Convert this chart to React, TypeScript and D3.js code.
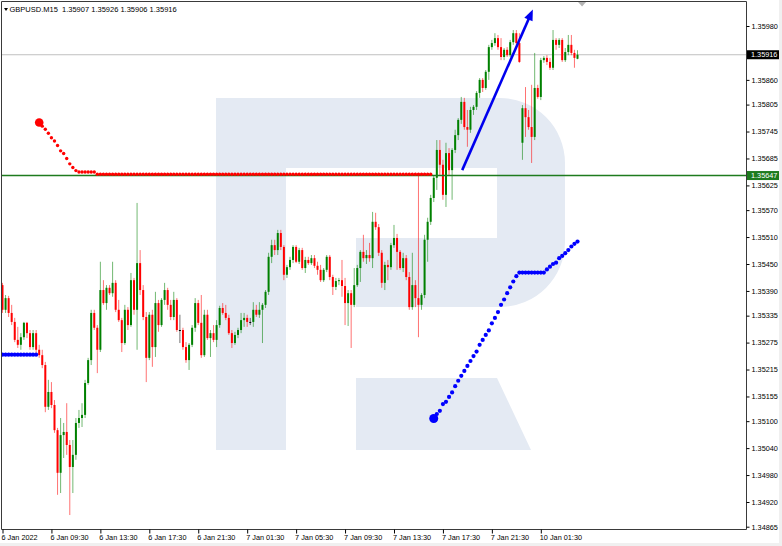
import React, { useEffect, useRef } from 'react';
import * as d3 from 'd3';

const symbol = 'GBPUSD.M15';
const lastQuote = [1.35907, 1.35926, 1.35906, 1.35916];

// M15 candles: [open, high, low, close]
const ohlc: number[][] = [
  // 6 Jan
  [1.35403, 1.35408, 1.35341, 1.35348], [1.35348, 1.35381, 1.35341, 1.35374], [1.35374, 1.35379, 1.35332, 1.35341],
  [1.35341, 1.35359, 1.35314, 1.35321], [1.35321, 1.35330, 1.35276, 1.35281], [1.35281, 1.35310, 1.35263, 1.35270],
  [1.35270, 1.35296, 1.35259, 1.35287], [1.35287, 1.35321, 1.35281, 1.35319], [1.35319, 1.35321, 1.35285, 1.35296],
  [1.35296, 1.35303, 1.35259, 1.35265], [1.35265, 1.35303, 1.35259, 1.35296], [1.35296, 1.35303, 1.35252, 1.35259],
  [1.35259, 1.35270, 1.35241, 1.35247], [1.35247, 1.35259, 1.35218, 1.35225], [1.35225, 1.35232, 1.35120, 1.35132],
  [1.35132, 1.35192, 1.35125, 1.35165], [1.35165, 1.35187, 1.35129, 1.35136], [1.35136, 1.35147, 1.35074, 1.35080],
  [1.35080, 1.35085, 1.34936, 1.34985], [1.34985, 1.35107, 1.34940, 1.35069], [1.35069, 1.35096, 1.35018, 1.35076],
  [1.35076, 1.35140, 1.35025, 1.35047], [1.35047, 1.35058, 1.34891, 1.34998], [1.34998, 1.35058, 1.34940, 1.35025],
  [1.35025, 1.35107, 1.35014, 1.35096], [1.35096, 1.35125, 1.35085, 1.35107], [1.35107, 1.35140, 1.35087, 1.35114],
  [1.35114, 1.35192, 1.35107, 1.35185], [1.35185, 1.35241, 1.35181, 1.35236], [1.35236, 1.35348, 1.35225, 1.35341],
  [1.35341, 1.35348, 1.35303, 1.35308], [1.35308, 1.35314, 1.35207, 1.35259], [1.35259, 1.35455, 1.35254, 1.35392],
  [1.35392, 1.35414, 1.35359, 1.35363], [1.35363, 1.35403, 1.35348, 1.35397], [1.35397, 1.35403, 1.35381, 1.35385],
  [1.35385, 1.35455, 1.35377, 1.35408], [1.35408, 1.35414, 1.35343, 1.35348], [1.35348, 1.35370, 1.35321, 1.35325],
  [1.35325, 1.35330, 1.35254, 1.35274], [1.35274, 1.35359, 1.35270, 1.35348], [1.35348, 1.35354, 1.35303, 1.35314],
  [1.35314, 1.35430, 1.35310, 1.35414], [1.35414, 1.35419, 1.35337, 1.35348], [1.35348, 1.35586, 1.35259, 1.35452],
  [1.35452, 1.35481, 1.35381, 1.35392], [1.35392, 1.35403, 1.35325, 1.35332], [1.35332, 1.35343, 1.35187, 1.35241],
  [1.35241, 1.35343, 1.35236, 1.35337], [1.35337, 1.35348, 1.35221, 1.35265], [1.35265, 1.35388, 1.35243, 1.35363],
  [1.35363, 1.35370, 1.35299, 1.35314], [1.35314, 1.35374, 1.35310, 1.35370], [1.35370, 1.35408, 1.35359, 1.35392],
  [1.35392, 1.35397, 1.35348, 1.35359], [1.35359, 1.35370, 1.35325, 1.35332], [1.35332, 1.35388, 1.35325, 1.35370],
  [1.35370, 1.35374, 1.35299, 1.35303], [1.35303, 1.35337, 1.35274, 1.35303], [1.35303, 1.35308, 1.35259, 1.35265],
  [1.35265, 1.35276, 1.35230, 1.35236], [1.35236, 1.35274, 1.35214, 1.35270], [1.35270, 1.35314, 1.35265, 1.35308],
  [1.35308, 1.35374, 1.35299, 1.35363], [1.35363, 1.35370, 1.35314, 1.35319], [1.35319, 1.35381, 1.35241, 1.35247],
  [1.35247, 1.35348, 1.35243, 1.35337], [1.35337, 1.35348, 1.35281, 1.35285], [1.35285, 1.35303, 1.35243, 1.35296],
  [1.35296, 1.35314, 1.35276, 1.35281], [1.35281, 1.35325, 1.35265, 1.35314], [1.35314, 1.35357, 1.35308, 1.35352],
  [1.35352, 1.35363, 1.35337, 1.35341], [1.35341, 1.35359, 1.35325, 1.35330], [1.35330, 1.35337, 1.35292, 1.35296],
  [1.35296, 1.35303, 1.35263, 1.35274], [1.35274, 1.35299, 1.35270, 1.35292], [1.35292, 1.35308, 1.35285, 1.35303],
  // 7 Jan
  [1.35303, 1.35341, 1.35296, 1.35325], [1.35325, 1.35341, 1.35310, 1.35330], [1.35330, 1.35337, 1.35310, 1.35321],
  [1.35321, 1.35330, 1.35314, 1.35321], [1.35321, 1.35365, 1.35310, 1.35348], [1.35348, 1.35359, 1.35332, 1.35337],
  [1.35337, 1.35365, 1.35330, 1.35348], [1.35348, 1.35363, 1.35274, 1.35359], [1.35359, 1.35392, 1.35352, 1.35388],
  [1.35388, 1.35475, 1.35381, 1.35466], [1.35466, 1.35504, 1.35452, 1.35492], [1.35492, 1.35504, 1.35470, 1.35481],
  [1.35481, 1.35526, 1.35470, 1.35519], [1.35519, 1.35526, 1.35481, 1.35488], [1.35488, 1.35492, 1.35414, 1.35426],
  [1.35426, 1.35448, 1.35419, 1.35443], [1.35443, 1.35466, 1.35437, 1.35459], [1.35459, 1.35492, 1.35452, 1.35488],
  [1.35488, 1.35492, 1.35452, 1.35455], [1.35455, 1.35486, 1.35450, 1.35481], [1.35481, 1.35486, 1.35437, 1.35441],
  [1.35441, 1.35466, 1.35430, 1.35459], [1.35459, 1.35466, 1.35448, 1.35452], [1.35452, 1.35470, 1.35448, 1.35463],
  [1.35463, 1.35470, 1.35441, 1.35446], [1.35446, 1.35455, 1.35426, 1.35437], [1.35437, 1.35448, 1.35410, 1.35414],
  [1.35414, 1.35441, 1.35410, 1.35437], [1.35437, 1.35470, 1.35432, 1.35466], [1.35466, 1.35470, 1.35414, 1.35421],
  [1.35421, 1.35426, 1.35381, 1.35399], [1.35399, 1.35419, 1.35392, 1.35412], [1.35412, 1.35419, 1.35403, 1.35414],
  [1.35414, 1.35459, 1.35377, 1.35401], [1.35401, 1.35419, 1.35314, 1.35363], [1.35363, 1.35392, 1.35312, 1.35385],
  [1.35385, 1.35392, 1.35263, 1.35359], [1.35359, 1.35441, 1.35354, 1.35403], [1.35403, 1.35448, 1.35399, 1.35441],
  [1.35441, 1.35481, 1.35410, 1.35477], [1.35477, 1.35515, 1.35455, 1.35463], [1.35463, 1.35481, 1.35450, 1.35470],
  [1.35470, 1.35497, 1.35455, 1.35463], [1.35463, 1.35566, 1.35441, 1.35544], [1.35544, 1.35564, 1.35526, 1.35532],
  [1.35532, 1.35539, 1.35468, 1.35475], [1.35475, 1.35481, 1.35397, 1.35408], [1.35408, 1.35455, 1.35392, 1.35448],
  [1.35448, 1.35459, 1.35414, 1.35443], [1.35443, 1.35497, 1.35437, 1.35492], [1.35492, 1.35537, 1.35486, 1.35508],
  [1.35508, 1.35517, 1.35437, 1.35477], [1.35477, 1.35481, 1.35437, 1.35441], [1.35441, 1.35475, 1.35432, 1.35463],
  [1.35463, 1.35470, 1.35414, 1.35421], [1.35421, 1.35432, 1.35348, 1.35354], [1.35354, 1.35475, 1.35348, 1.35403],
  [1.35403, 1.35414, 1.35354, 1.35374], [1.35374, 1.35648, 1.35287, 1.35359], [1.35359, 1.35385, 1.35348, 1.35381],
  [1.35381, 1.35515, 1.35374, 1.35504], [1.35504, 1.35553, 1.35455, 1.35544], [1.35544, 1.35604, 1.35537, 1.35597],
  [1.35597, 1.35648, 1.35588, 1.35642], [1.35642, 1.35726, 1.35615, 1.35704], [1.35704, 1.35726, 1.35648, 1.35671],
  [1.35671, 1.35682, 1.35593, 1.35604], [1.35604, 1.35720, 1.35577, 1.35697], [1.35697, 1.35708, 1.35648, 1.35659],
  [1.35659, 1.35708, 1.35593, 1.35704], [1.35704, 1.35749, 1.35697, 1.35737], [1.35737, 1.35775, 1.35726, 1.35771],
  [1.35771, 1.35822, 1.35762, 1.35811], [1.35811, 1.35820, 1.35749, 1.35755], [1.35755, 1.35793, 1.35711, 1.35749],
  [1.35749, 1.35800, 1.35742, 1.35793], [1.35793, 1.35804, 1.35782, 1.35800], [1.35800, 1.35835, 1.35793, 1.35831],
  [1.35831, 1.35864, 1.35820, 1.35860], [1.35860, 1.35864, 1.35833, 1.35842], [1.35842, 1.35882, 1.35838, 1.35878],
  [1.35878, 1.35938, 1.35860, 1.35933], [1.35933, 1.35949, 1.35927, 1.35942], [1.35942, 1.35964, 1.35936, 1.35953],
  [1.35953, 1.35960, 1.35927, 1.35933], [1.35933, 1.35953, 1.35904, 1.35911], [1.35911, 1.35931, 1.35904, 1.35927],
  [1.35927, 1.35933, 1.35911, 1.35915], [1.35915, 1.35949, 1.35911, 1.35944], [1.35944, 1.35971, 1.35938, 1.35964],
  [1.35964, 1.35971, 1.35938, 1.35942], [1.35942, 1.35964, 1.35898, 1.35900],
  // 10 Jan
  [1.35720, 1.35804, 1.35682, 1.35797], [1.35797, 1.35844, 1.35733, 1.35777], [1.35777, 1.35793, 1.35749, 1.35755],
  [1.35755, 1.35849, 1.35675, 1.35733], [1.35733, 1.35920, 1.35726, 1.35842], [1.35842, 1.35849, 1.35818, 1.35822],
  [1.35822, 1.35909, 1.35815, 1.35904], [1.35904, 1.35913, 1.35898, 1.35909], [1.35909, 1.35915, 1.35893, 1.35900],
  [1.35900, 1.35909, 1.35882, 1.35887], [1.35887, 1.35971, 1.35882, 1.35949], [1.35949, 1.35953, 1.35927, 1.35938],
  [1.35938, 1.35953, 1.35931, 1.35949], [1.35949, 1.35953, 1.35900, 1.35904], [1.35904, 1.35931, 1.35900, 1.35922],
  [1.35922, 1.35960, 1.35915, 1.35938], [1.35938, 1.35960, 1.35915, 1.35920], [1.35920, 1.35927, 1.35887, 1.35909],
  [1.35907, 1.35926, 1.35906, 1.35916],
];

const timeTickIndex = [0, 16, 32, 48, 64, 80, 96, 112, 128, 144, 160, 176];
const timeTickLabels = [
  '6 Jan 2022', '6 Jan 09:30', '6 Jan 13:30', '6 Jan 17:30', '6 Jan 21:30', '7 Jan 01:30',
  '7 Jan 05:30', '7 Jan 09:30', '7 Jan 13:30', '7 Jan 17:30', '7 Jan 21:30', '10 Jan 01:30',
];

const priceTicks = [
  1.3598, 1.3586, 1.35805, 1.35745, 1.35685, 1.35625, 1.3557, 1.3551, 1.3545, 1.3539,
  1.35335, 1.35275, 1.35215, 1.35155, 1.351, 1.3504, 1.3498, 1.3492, 1.34865,
];

const bidPrice = 1.35916;
const levelPrice = 1.35647;

// red dotted indicator (bars 12..30, then a flat stretch)
const redStart = 12;
const redDots = [
  1.35765, 1.35757, 1.3575, 1.35741, 1.35731, 1.35724, 1.35714, 1.35702, 1.35696, 1.35685,
  1.35673, 1.35665, 1.35658, 1.35655, 1.35655, 1.35655, 1.35655, 1.35655, 1.35655,
];
const redFlat = { from: 31, to: 140, price: 1.3565 };

// blue dotted indicator
const blueFlatLeft = { from: 0, to: 11, price: 1.35248 };
const blueStart = 141;
const blueDots = [
  1.35106, 1.35116, 1.35123, 1.35138, 1.35143, 1.35154, 1.35164, 1.35178, 1.3519, 1.35201,
  1.35212, 1.35223, 1.35234, 1.35245, 1.35255, 1.3527, 1.35281, 1.35292, 1.35302, 1.35318,
  1.3533, 1.35343, 1.35359, 1.35371, 1.35385, 1.35398, 1.35411, 1.35423, 1.35431,
  1.35431, 1.35431, 1.35431, 1.35431, 1.35431, 1.35431, 1.35431, 1.35431,
  1.35438, 1.35444, 1.3545, 1.35453, 1.35463, 1.35468, 1.35474, 1.35481, 1.35489, 1.35495, 1.355,
];

const arrowFrom = [150.3, 1.35659];
const arrowTo = [173.4, 1.36017];

const W = 782;
const H = 546;
const FONT = '"Liberation Sans", Arial, sans-serif';
const BULL = '#008000';
const BEAR = '#ff0000';

export default function App() {
  const ref = useRef<SVGSVGElement>(null);

  useEffect(() => {
    document.body.style.margin = '0';
    if (!ref.current) return;
    const svg = d3.select(ref.current);
    svg.selectAll('*').remove();

    const left = 1.5, right = 746.5, top = 1.5, bottom = 529.5;

    const x = d3.scaleLinear().domain([0, ohlc.length - 1]).range([2.5, 577.5]);
    const y = d3.scaleLinear().domain([1.34865, 1.3598]).range([526.7, 26]);

    svg.append('rect').attr('width', W).attr('height', H).attr('fill', '#f0f0f0');
    svg.append('rect').attr('width', 779).attr('height', 543).attr('fill', '#ffffff');

    svg.append('defs').append('clipPath').attr('id', 'plot')
      .append('rect').attr('x', left).attr('y', top).attr('width', right - left).attr('height', bottom - top);

    const g = svg.append('g').attr('clip-path', 'url(#plot)');

    // watermark logo
    const logo = '#e4eaf3';
    g.append('path')
      .attr('d', 'M216,98 H500 A65,65 0 0 1 565,163 V242 A65,65 0 0 1 500,307 H356 V238 H497 V168 H286 V450 H216 Z')
      .attr('fill', logo);
    g.append('path').attr('d', 'M356,378 H497 L531,450 H356 Z').attr('fill', logo);

    // bid line
    g.append('line').attr('x1', left).attr('x2', right)
      .attr('y1', y(bidPrice)).attr('y2', y(bidPrice))
      .attr('stroke', '#c0c0c0').attr('stroke-width', 1);

    // candles
    ohlc.forEach(([o, h, l, c], i) => {
      const cx = x(i);
      const col = c > o ? BULL : c < o ? BEAR : '#000';
      g.append('line').attr('x1', cx).attr('x2', cx).attr('y1', y(h)).attr('y2', y(l))
        .attr('stroke', col).attr('stroke-width', 1).attr('opacity', 0.55);
      const y0 = Math.min(y(o), y(c));
      const bh = Math.max(1, Math.abs(y(o) - y(c)));
      g.append('rect').attr('x', cx - 1).attr('y', y0).attr('width', 2).attr('height', bh).attr('fill', col);
    });

    // horizontal level
    g.append('line').attr('x1', left).attr('x2', right)
      .attr('y1', y(levelPrice)).attr('y2', y(levelPrice))
      .attr('stroke', '#1e7b1e').attr('stroke-width', 1.6);

    // red dots
    const red: [number, number][] = redDots.map((p, k) => [redStart + k, p]);
    for (let i = redFlat.from; i <= redFlat.to; i++) red.push([i, redFlat.price]);
    g.selectAll('circle.red').data(red).enter().append('circle')
      .attr('cx', d => x(d[0])).attr('cy', d => y(d[1]))
      .attr('r', (d, k) => (k === 0 ? 4.3 : 1.7)).attr('fill', '#ff0000');

    // blue dots
    const blue: [number, number][] = [];
    for (let i = blueFlatLeft.from; i <= blueFlatLeft.to; i++) blue.push([i, blueFlatLeft.price]);
    blueDots.forEach((p, k) => blue.push([blueStart + k, p]));
    g.selectAll('circle.blue').data(blue).enter().append('circle')
      .attr('cx', d => x(d[0])).attr('cy', d => y(d[1]))
      .attr('r', d => (d[0] === blueStart ? 4.5 : 2.1)).attr('fill', '#0000ff');

    // trend arrow
    const ax1 = x(arrowFrom[0]), ay1 = y(arrowFrom[1]);
    const ax2 = x(arrowTo[0]), ay2 = y(arrowTo[1]);
    const len = Math.hypot(ax2 - ax1, ay2 - ay1);
    const ux = (ax2 - ax1) / len, uy = (ay2 - ay1) / len;
    const hl = 11, hw = 4.5;
    g.append('line').attr('x1', ax1).attr('y1', ay1)
      .attr('x2', ax2 - ux * hl * 0.7).attr('y2', ay2 - uy * hl * 0.7)
      .attr('stroke', '#0000ee').attr('stroke-width', 2.6);
    g.append('polygon')
      .attr('points', [
        [ax2, ay2],
        [ax2 - ux * hl - uy * hw, ay2 - uy * hl + ux * hw],
        [ax2 - ux * hl + uy * hw, ay2 - uy * hl - ux * hw],
      ].map(p => p.join(',')).join(' '))
      .attr('fill', '#0000ee');

    // shift marker
    const sx = x(ohlc.length) + 1.5;
    svg.append('polygon').attr('points', `${sx - 4},2 ${sx + 4},2 ${sx},6.5`).attr('fill', '#b4b4b4');

    // frame
    svg.append('path')
      .attr('d', `M${left},${top} H${right} V${bottom} H${left} Z`)
      .attr('fill', 'none').attr('stroke', '#3a3a3a').attr('stroke-width', 1);

    // price axis
    const yAxis = svg.append('g').attr('transform', `translate(${right},0)`)
      .call(d3.axisRight(y).tickValues(priceTicks).tickFormat(d3.format('.5f')).tickSize(3).tickPadding(2));
    yAxis.select('.domain').remove();
    yAxis.selectAll('line').attr('stroke', '#000');
    yAxis.selectAll('text').attr('font-family', FONT).attr('font-size', 7.3).attr('fill', '#000');

    // time axis
    const xAxis = svg.append('g').attr('transform', `translate(0,${bottom})`)
      .call(d3.axisBottom(x).tickValues(timeTickIndex).tickFormat((_, k) => timeTickLabels[k]).tickSize(4).tickPadding(1.5));
    xAxis.select('.domain').remove();
    xAxis.selectAll('line').attr('stroke', '#000');
    xAxis.selectAll('text').attr('font-family', FONT).attr('font-size', 7.3).attr('fill', '#000')
      .attr('text-anchor', 'start').attr('x', -1.5);

    // price tags
    const tag = (price: number, bg: string) => {
      const cy = y(price);
      svg.append('rect').attr('x', right + 0.5).attr('y', cy - 4.5).attr('width', 32).attr('height', 9).attr('fill', bg);
      svg.append('text').attr('x', right + 4.5).attr('y', cy + 2.6)
        .attr('font-family', FONT).attr('font-size', 7.3).attr('fill', '#fff')
        .text(d3.format('.5f')(price));
    };
    tag(bidPrice, '#000000');
    tag(levelPrice, '#1e7b1e');

    // header
    svg.append('polygon').attr('points', '4,8 8,8 6,11').attr('fill', '#000');
    svg.append('text').attr('x', 9.5).attr('y', 11.8)
      .attr('font-family', FONT).attr('font-size', 7.5).attr('fill', '#000')
      .text(`${symbol}  ${lastQuote.map(d3.format('.5f')).join(' ')}`)
      .attr('xml:space', 'preserve');
  }, []);

  return (
    <svg ref={ref} width={W} height={H} style={{ position: 'absolute', left: 0, top: 0, display: 'block' }} />
  );
}
